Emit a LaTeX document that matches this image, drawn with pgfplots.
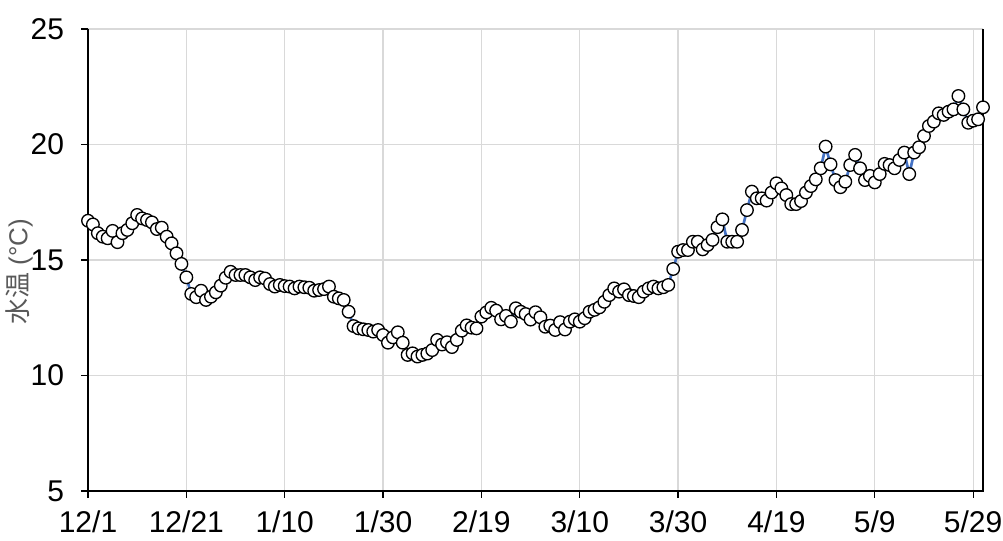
\documentclass[border=0pt]{standalone}
\usepackage{pgfplots}
\pgfplotsset{compat=1.18}
\usepackage{fontspec}
\setmainfont{Liberation Sans}
\newfontfamily\cjk{Noto Sans CJK JP}
\definecolor{lineblue}{HTML}{4472C4}
\definecolor{gridgray}{HTML}{D9D9D9}
\definecolor{labgray}{HTML}{595959}
\begin{document}
\begin{tikzpicture}
\begin{axis}[
  at={(0pt,0pt)}, anchor=south west,
  scale only axis,
  width=671.25pt, height=346.5pt,
  xmin=0, xmax=182, ymin=5, ymax=25,
  xtick={0,20,...,180},
  xticklabels={12/1,12/21,1/10,1/30,2/19,3/10,3/30,4/19,5/9,5/29},
  ytick={5,10,...,25},
  grid=major,
  major grid style={gridgray, line width=1pt},
  axis line style={draw=none},
  tick align=outside,
  xtick pos=bottom, ytick pos=left,
  major tick length=5pt,
  tick style={black, line width=1pt},
  /pgf/number format/assume math mode=true,
  ticklabel style={font=\fontsize{22.5}{26}\selectfont},
  xticklabel style={yshift=-6.5pt},
  yticklabel style={xshift=-9.5pt},
  ylabel={{\cjk 水温} (°C)},
  ylabel style={font=\fontsize{19.5}{22}\selectfont, text=labgray, at={(axis description cs:-0.077,0.475)}, anchor=center},
  clip=false,
]
\addplot[lineblue, line width=2pt, mark=*, mark size=4.7pt,
  mark options={fill=white, draw=black, line width=1pt}] table {
x y
0 16.70
1 16.54
2 16.16
3 16.01
4 15.94
5 16.26
6 15.77
7 16.16
8 16.30
9 16.59
10 16.95
11 16.80
12 16.73
13 16.63
14 16.34
15 16.40
16 16.01
17 15.72
18 15.29
19 14.83
20 14.25
21 13.53
22 13.39
23 13.67
24 13.27
25 13.41
26 13.60
27 13.89
28 14.23
29 14.49
30 14.35
31 14.35
32 14.35
33 14.25
34 14.13
35 14.25
36 14.20
37 13.96
38 13.85
39 13.92
40 13.87
41 13.85
42 13.77
43 13.85
44 13.82
45 13.80
46 13.67
47 13.70
48 13.74
49 13.85
50 13.41
51 13.34
52 13.27
53 12.76
54 12.14
55 12.04
56 12.00
57 11.97
58 11.90
59 11.97
60 11.75
61 11.42
62 11.65
63 11.87
64 11.42
65 10.89
66 10.96
67 10.82
68 10.89
69 10.95
70 11.10
71 11.54
72 11.34
73 11.44
74 11.23
75 11.54
76 11.94
77 12.17
78 12.07
79 12.04
80 12.55
81 12.73
82 12.93
83 12.81
84 12.43
85 12.58
86 12.33
87 12.91
88 12.76
89 12.66
90 12.42
91 12.74
92 12.52
93 12.11
94 12.16
95 11.97
96 12.31
97 11.99
98 12.33
99 12.43
100 12.33
101 12.48
102 12.76
103 12.84
104 12.95
105 13.19
106 13.48
107 13.77
108 13.63
109 13.73
110 13.48
111 13.44
112 13.39
113 13.63
114 13.77
115 13.85
116 13.77
117 13.82
118 13.92
119 14.61
120 15.36
121 15.43
122 15.43
123 15.79
124 15.79
125 15.46
126 15.65
127 15.87
128 16.42
129 16.76
130 15.79
131 15.79
132 15.79
133 16.30
134 17.16
135 17.96
136 17.67
137 17.67
138 17.57
139 17.92
140 18.32
141 18.10
142 17.81
143 17.42
144 17.42
145 17.55
146 17.92
147 18.20
148 18.49
149 18.97
150 19.91
151 19.14
152 18.46
153 18.15
154 18.39
155 19.11
156 19.55
157 18.97
158 18.46
159 18.64
160 18.36
161 18.72
162 19.16
163 19.11
164 18.97
165 19.33
166 19.65
167 18.72
168 19.65
169 19.88
170 20.37
171 20.80
172 20.99
173 21.35
174 21.28
175 21.42
176 21.52
177 22.10
178 21.52
179 20.94
180 21.03
181 21.09
182 21.61
};
\draw[black, line width=1.2pt] (rel axis cs:0,1) -- (rel axis cs:0,0) -- (rel axis cs:1,0) -- (rel axis cs:1,1);
\end{axis}
\pgfresetboundingbox
\path (-66pt,-37.5pt) rectangle (686.25pt,368.25pt);
\end{tikzpicture}
\end{document}
